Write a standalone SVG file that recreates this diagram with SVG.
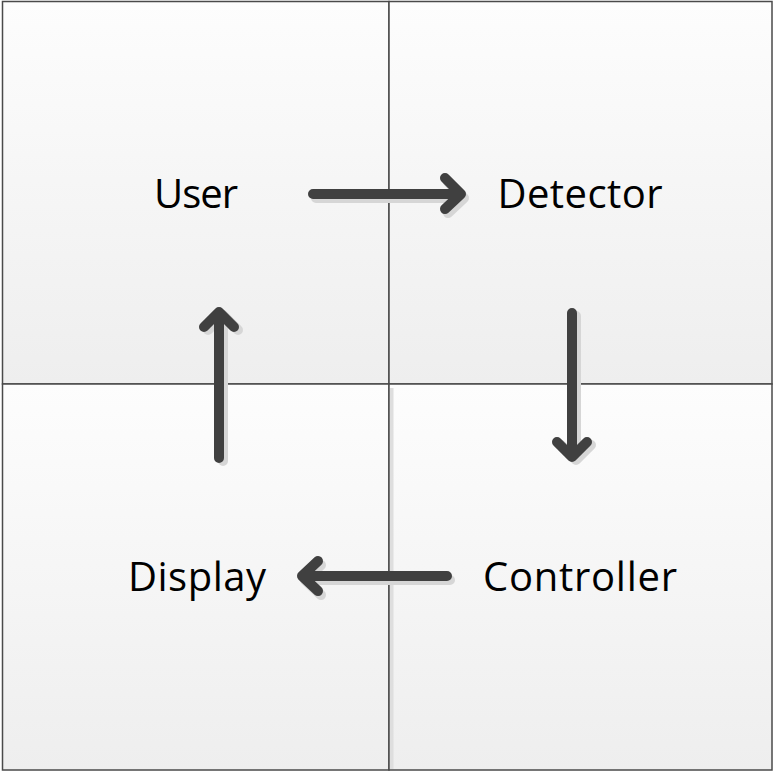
<svg xmlns="http://www.w3.org/2000/svg" width="775" height="774" viewBox="0 0 775 774">
<defs>
<linearGradient id="g" x1="0" y1="0" x2="0" y2="1">
<stop offset="0" stop-color="#fdfdfd"/>
<stop offset="1" stop-color="#eeeeee"/>
</linearGradient>
<path id="a1" d="M313 194 H460 M445 178 L461 194 L445 209"/>
<path id="a2" d="M572 313 V456 M557 442 L572 457 L587 442"/>
<path id="a3" d="M447 576 H303 M318 561 L302 576 L318 591"/>
<path id="a4" d="M219 458 V313 M204 327 L219 312 L234 327"/>
</defs>
<style>
.sq{fill:url(#g);stroke:#4a4a4a;stroke-width:1.5}
.arr{fill:none;stroke:#404040;stroke-width:10;stroke-linecap:round;stroke-linejoin:round}
.sh{fill:none;stroke:#d6d6d6;stroke-width:10;stroke-linecap:round;stroke-linejoin:round}
.t{font-family:"Open Sans",sans-serif;font-size:40px;fill:#000;text-anchor:middle}
</style>
<g id="user"><rect class="sq" x="2.5" y="1.5" width="386.5" height="382.5"/><text class="t" x="196" y="208" textLength="84" lengthAdjust="spacing">User</text></g>
<g id="detector"><rect class="sq" x="389" y="1.5" width="383" height="382.5"/><text class="t" x="580" y="208" textLength="165" lengthAdjust="spacing">Detector</text></g>
<g id="display"><rect class="sq" x="2.5" y="384" width="386.5" height="386"/><text class="t" x="197" y="591" textLength="138" lengthAdjust="spacing">Display</text></g>
<g id="controller"><rect class="sq" x="389" y="384" width="383" height="386"/><rect x="390" y="388" width="3.5" height="381" fill="#dedede"/><text class="t" x="580" y="591" textLength="194" lengthAdjust="spacing">Controller</text></g>
<g id="connectors">
<use href="#a1" class="sh" transform="translate(3,4)"/>
<use href="#a2" class="sh" transform="translate(4,3)"/>
<use href="#a3" class="sh" transform="translate(3,4)"/>
<use href="#a4" class="sh" transform="translate(4,3)"/>
<use href="#a1" class="arr"/>
<use href="#a2" class="arr"/>
<use href="#a3" class="arr"/>
<use href="#a4" class="arr"/>
</g>
</svg>
